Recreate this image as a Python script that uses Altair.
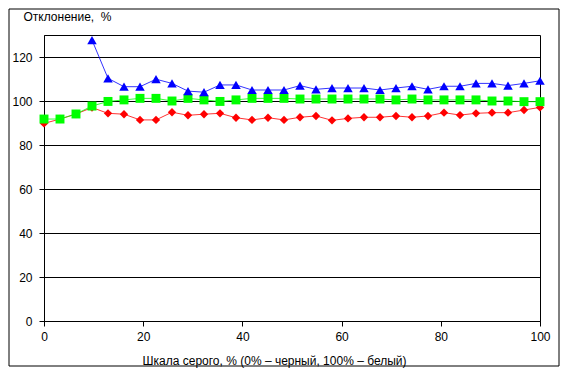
import altair as alt
import pandas as pd

n = 32
x_vals = [i * 100 / 31 for i in range(n)]

red = [89.8, 91.8, 94.1, 97.0, 94.4, 94.0, 91.4, 91.4, 94.9, 93.5, 94.0, 94.4, 92.4, 91.4, 92.4, 91.4,
       92.6, 93.2, 91.2, 92.1, 92.6, 92.6, 93.2, 92.6, 93.2, 94.7, 93.6, 94.4, 94.7, 94.7, 95.9, 97.1]
green = [91.8, 91.8, 94.1, 97.7, 99.8, 100.5, 101.2, 101.2, 100.0, 101.2, 100.5, 99.8, 100.5, 101.2, 101.2, 101.2,
         100.9, 100.9, 100.9, 100.9, 100.9, 100.9, 100.5, 100.9, 100.5, 100.5, 100.5, 100.5, 100.0, 100.0, 99.7, 99.7]
blue = [None, None, None, 127.7, 110.3, 106.5, 106.5, 109.9, 108.0, 104.5, 104.0, 107.3, 107.3, 105.0, 105.0, 105.0,
        107.0, 105.3, 105.9, 105.9, 105.9, 105.0, 105.9, 106.7, 105.3, 106.7, 106.7, 108.0, 108.0, 107.0, 108.0, 109.2]

series_names = ["red", "green", "blue"]
series_colors = ["#FF0000", "#00FF00", "#0000FF"]
series_shapes = ["diamond", "square", "triangle-up"]
series_sizes = [70, 90, 90]

rows = []
for name, vals in zip(series_names, [red, green, blue]):
    for xv, yv in zip(x_vals, vals):
        if yv is not None:
            rows.append({"x": xv, "y": yv, "s": name})
df = pd.DataFrame(rows)

FONT = "Liberation Sans"

xenc = alt.X("x:Q", scale=alt.Scale(domain=[0, 100], nice=False),
             axis=alt.Axis(values=[0, 20, 40, 60, 80, 100], grid=False, tickSize=5, labelPadding=5,
                           labelFlush=False,
                           domainColor="black", tickColor="black", labelColor="black",
                           labelFont=FONT, labelFontSize=12,
                           title="Шкала серого, % (0% – черный, 100% – белый)",
                           titleFont=FONT, titleFontSize=12, titleFontWeight="normal", titleColor="black",
                           titleX=230, titleY=43, titleBaseline="alphabetic"))
yenc = alt.Y("y:Q", scale=alt.Scale(domain=[0, 130], nice=False),
             axis=alt.Axis(values=[0, 20, 40, 60, 80, 100, 120], grid=True, gridColor="black", gridOpacity=1,
                           tickSize=5, labelPadding=7,
                           domainColor="black", tickColor="black", labelColor="black",
                           labelFont=FONT, labelFontSize=12,
                           title="Отклонение,\u00a0 %", titleAngle=0, titleAlign="left",
                           titleBaseline="alphabetic", titleX=-21, titleY=-15,
                           titleFont=FONT, titleFontSize=12, titleFontWeight="normal", titleColor="black"))

color = alt.Color("s:N", scale=alt.Scale(domain=series_names, range=series_colors), legend=None)
shape = alt.Shape("s:N", scale=alt.Scale(domain=series_names, range=series_shapes), legend=None)
size = alt.Size("s:N", scale=alt.Scale(domain=series_names, range=series_sizes), legend=None)

base = alt.Chart(df)
lines = base.mark_line(strokeWidth=1, opacity=0.8).encode(x=xenc, y=yenc, color=color, detail="s:N")
points = base.mark_point(filled=True, opacity=1).encode(x=xenc, y=yenc, color=color, shape=shape, size=size)

border = alt.Chart(pd.DataFrame({"a": [0]})).mark_rect(
    fill="white", fillOpacity=0, stroke="black", strokeWidth=1, clip=False
).encode(
    x=alt.value(-35), x2=alt.value(515), y=alt.value(-26), y2=alt.value(331)
)

chart = alt.layer(lines, points, border).properties(
    width=496, height=286,
    padding={"left": 36, "top": 27, "right": 20, "bottom": 47},
    autosize=alt.AutoSizeParams(type="none"),
).configure_view(stroke="black", strokeWidth=1)

chart.save("out.html", embed_options={"renderer": "svg", "actions": False})
